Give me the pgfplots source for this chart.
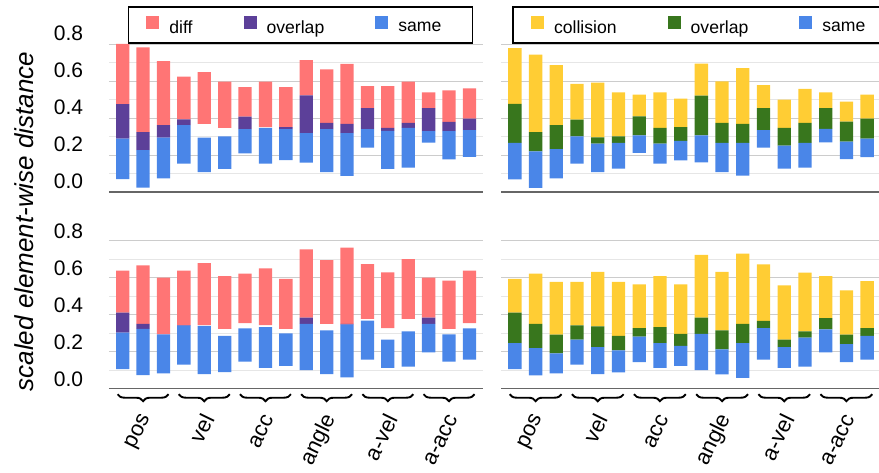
\documentclass[border=0pt]{standalone}
\usepackage{fontspec}
\setmainfont{Liberation Sans}
\usepackage{pgfplots}
\pgfplotsset{compat=1.18}
\usepackage{pgfplotstable}
\usetikzlibrary{decorations.pathreplacing}

\definecolor{cred}{RGB}{255,117,117}
\definecolor{cpurple}{RGB}{92,64,153}
\definecolor{cblue}{RGB}{74,134,232}
\definecolor{cyellow}{RGB}{255,205,52}
\definecolor{cgreen}{RGB}{56,118,29}
\definecolor{gridmaj}{RGB}{204,204,204}
\definecolor{gridmin}{RGB}{230,230,230}
\definecolor{axisgray}{RGB}{102,102,102}

% x: bar index, lo: bottom of "same", bt: top of "same", mt: top of middle (overlap),
% rb: bottom of top segment, rt: top of top segment
\pgfplotstableread{
x lo bt mt rb rt
0 0.069 0.289 0.475 0.475 0.800
1 0.023 0.226 0.323 0.323 0.782
2 0.074 0.294 0.361 0.361 0.708
3 0.153 0.361 0.392 0.392 0.623
4 0.107 0.294 0.294 0.368 0.648
5 0.125 0.300 0.300 0.347 0.596
6 0.209 0.340 0.408 0.408 0.567
7 0.153 0.347 0.347 0.350 0.596
8 0.172 0.340 0.350 0.350 0.567
9 0.159 0.318 0.522 0.522 0.713
10 0.108 0.340 0.374 0.374 0.663
11 0.087 0.318 0.368 0.368 0.692
12 0.240 0.340 0.453 0.453 0.572
13 0.125 0.330 0.347 0.347 0.572
14 0.132 0.347 0.374 0.374 0.596
15 0.267 0.329 0.453 0.453 0.538
16 0.177 0.329 0.379 0.379 0.549
17 0.190 0.334 0.397 0.397 0.560
}\TLdata

\pgfplotstableread{
x lo bt mt rb rt
0 0.068 0.265 0.476 0.476 0.778
1 0.022 0.220 0.323 0.323 0.742
2 0.074 0.232 0.362 0.362 0.686
3 0.153 0.301 0.391 0.391 0.584
4 0.108 0.261 0.295 0.295 0.591
5 0.126 0.265 0.301 0.301 0.539
6 0.211 0.306 0.409 0.409 0.526
7 0.153 0.261 0.346 0.346 0.539
8 0.171 0.277 0.351 0.351 0.505
9 0.160 0.306 0.521 0.521 0.694
10 0.108 0.265 0.373 0.373 0.598
11 0.088 0.265 0.368 0.368 0.670
12 0.240 0.335 0.454 0.454 0.578
13 0.126 0.250 0.346 0.346 0.499
14 0.132 0.265 0.373 0.373 0.557
15 0.268 0.341 0.454 0.454 0.539
16 0.178 0.272 0.380 0.380 0.488
17 0.189 0.288 0.396 0.396 0.526
}\TRdata

\pgfplotstableread{
x lo bt mt rb rt
0 0.106 0.303 0.411 0.411 0.638
1 0.074 0.323 0.350 0.350 0.667
2 0.083 0.294 0.294 0.294 0.600
3 0.130 0.341 0.344 0.344 0.638
4 0.079 0.339 0.339 0.344 0.679
5 0.090 0.286 0.286 0.323 0.609
6 0.146 0.326 0.326 0.355 0.622
7 0.112 0.333 0.333 0.344 0.650
8 0.124 0.299 0.299 0.323 0.593
9 0.101 0.350 0.384 0.384 0.753
10 0.079 0.315 0.315 0.350 0.695
11 0.061 0.346 0.351 0.351 0.762
12 0.157 0.368 0.368 0.378 0.674
13 0.112 0.265 0.265 0.328 0.629
14 0.119 0.310 0.310 0.378 0.701
15 0.196 0.350 0.384 0.384 0.600
16 0.146 0.294 0.294 0.323 0.584
17 0.157 0.326 0.326 0.355 0.638
}\BLdata

\pgfplotstableread{
x lo bt mt rb rt
0 0.106 0.247 0.411 0.411 0.593
1 0.072 0.220 0.350 0.350 0.622
2 0.083 0.191 0.292 0.292 0.577
3 0.130 0.265 0.342 0.342 0.577
4 0.079 0.225 0.337 0.337 0.632
5 0.088 0.207 0.286 0.286 0.577
6 0.144 0.281 0.328 0.328 0.564
7 0.112 0.247 0.333 0.333 0.609
8 0.123 0.231 0.297 0.297 0.564
9 0.101 0.297 0.384 0.384 0.723
10 0.077 0.213 0.315 0.315 0.632
11 0.059 0.247 0.350 0.350 0.730
12 0.157 0.328 0.366 0.366 0.672
13 0.112 0.225 0.265 0.265 0.559
14 0.119 0.276 0.310 0.310 0.627
15 0.196 0.321 0.382 0.382 0.609
16 0.144 0.241 0.292 0.292 0.532
17 0.157 0.286 0.328 0.328 0.582
}\BRdata

% #1 table, #2 middle colour, #3 top colour
\newcommand{\bars}[3]{%
  \addplot[draw=none, fill=none, forget plot] table[x=x, y=lo]{#1};
  \addplot[draw=none, fill=cblue, legend image code/.code={\fill[cblue] (0pt,-1pt) rectangle (13pt,12pt);}]
     table[x=x, y expr=\thisrow{bt}-\thisrow{lo}]{#1};
  \addplot[draw=none, fill=#2, legend image code/.code={\fill[#2] (0pt,-1pt) rectangle (13pt,12pt);}]
     table[x=x, y expr=\thisrow{mt}-\thisrow{bt}]{#1};
  \addplot[draw=none, fill=none, forget plot] table[x=x, y expr=\thisrow{rb}-\thisrow{mt}]{#1};
  \addplot[draw=none, fill=#3, legend image code/.code={\fill[#3] (0pt,-1pt) rectangle (13pt,12pt);}]
     table[x=x, y expr=\thisrow{rt}-\thisrow{rb}]{#1};
}

\tikzset{mybrace/.style={decorate, decoration={brace, mirror, amplitude=7pt}, line width=1.9pt, draw=black}}
\newcommand{\xl}[1]{\mbox{\upshape #1}}

\pgfplotsset{
  panel/.style={
    scale only axis, anchor=south west,
    height=148pt,
    xmin=-0.67, xmax=17.65, ymin=0, ymax=0.8,
    ybar stacked, bar width=13.3pt,
    axis x line*=bottom, axis y line*=left,
    y axis line style={draw=none},
    x axis line style={draw=axisgray, line width=1.3pt},
    ytick={0,0.2,0.4,0.6,0.8}, minor ytick={0.1,0.3,0.5,0.7},
    ymajorgrids, yminorgrids,
    major grid style={draw=gridmaj, line width=0.9pt},
    minor grid style={draw=gridmin, line width=0.9pt},
    major tick length=0pt, minor tick length=0pt,
    xtick=\empty,
    clip=false,
    /pgf/number format/fixed, /pgf/number format/fixed zerofill,
    /pgf/number format/precision=1, /pgf/number format/assume math mode=true,
    yticklabel style={font=\fontsize{21}{25}\selectfont, inner sep=0pt, xshift=-25.7pt},
    reverse legend,
    legend style={anchor=south west, draw=black, line width=1.5pt,
      legend columns=-1, font=\fontsize{17.6}{21}\selectfont,
      /tikz/every even column/.append style={column sep=51pt},
      /tikz/every odd column/.append style={column sep=10pt},
      nodes={inner sep=0pt}, inner xsep=18pt, inner ysep=8.5pt},
    legend cell align=left,
  },
  leftw/.style={width=373.7pt},
  rightw/.style={width=379.6pt, yticklabels={}},
  bottomx/.style={
    xtick={1,4,7,10,13,16},
    xticklabels={\xl{pos},\xl{vel},\xl{acc},\xl{angle},\xl{a-vel},\xl{a-acc}},
    xticklabel style={xshift=4pt, yshift=-27pt, rotate=64, anchor=east, inner sep=0pt,
      font=\upshape\fontsize{22}{26}\selectfont},
  },
}

\begin{document}
\begin{tikzpicture}
% top left
\begin{axis}[panel, leftw, at={(109pt,280pt)},
  yticklabel style={yshift=11pt},
  legend style={at={(0.05,1)}},
  legend entries={same\kern13pt\null, overlap, diff}]
\bars{\TLdata}{cpurple}{cred}
\end{axis}
% top right
\begin{axis}[panel, rightw, at={(501pt,280pt)},
  legend style={at={(0.0298,1)}},
  legend entries={same\kern30pt\null, overlap, collision}]
\bars{\TRdata}{cgreen}{cyellow}
\end{axis}
% bottom left
\begin{axis}[panel, leftw, bottomx, at={(109pt,83.3pt)},
  yticklabel style={yshift=9pt}]
\bars{\BLdata}{cpurple}{cred}
\draw[mybrace] ([yshift=-5.5pt]axis cs:-0.25,0) -- ([yshift=-5.5pt]axis cs:2.25,0);
\draw[mybrace] ([yshift=-5.5pt]axis cs:2.75,0) -- ([yshift=-5.5pt]axis cs:5.25,0);
\draw[mybrace] ([yshift=-5.5pt]axis cs:5.75,0) -- ([yshift=-5.5pt]axis cs:8.25,0);
\draw[mybrace] ([yshift=-5.5pt]axis cs:8.75,0) -- ([yshift=-5.5pt]axis cs:11.25,0);
\draw[mybrace] ([yshift=-5.5pt]axis cs:11.75,0) -- ([yshift=-5.5pt]axis cs:14.25,0);
\draw[mybrace] ([yshift=-5.5pt]axis cs:14.75,0) -- ([yshift=-5.5pt]axis cs:17.25,0);
\end{axis}
% bottom right
\begin{axis}[panel, rightw, bottomx, at={(501pt,83.3pt)}]
\bars{\BRdata}{cgreen}{cyellow}
\draw[mybrace] ([yshift=-5.5pt]axis cs:-0.25,0) -- ([yshift=-5.5pt]axis cs:2.25,0);
\draw[mybrace] ([yshift=-5.5pt]axis cs:2.75,0) -- ([yshift=-5.5pt]axis cs:5.25,0);
\draw[mybrace] ([yshift=-5.5pt]axis cs:5.75,0) -- ([yshift=-5.5pt]axis cs:8.25,0);
\draw[mybrace] ([yshift=-5.5pt]axis cs:8.75,0) -- ([yshift=-5.5pt]axis cs:11.25,0);
\draw[mybrace] ([yshift=-5.5pt]axis cs:11.75,0) -- ([yshift=-5.5pt]axis cs:14.25,0);
\draw[mybrace] ([yshift=-5.5pt]axis cs:14.75,0) -- ([yshift=-5.5pt]axis cs:17.25,0);
\end{axis}
\node[rotate=90, anchor=base, font=\itshape\fontsize{26}{30}\selectfont] at (33pt,250.5pt) {scaled element-wise distance};
\pgfresetboundingbox
\useasboundingbox (0pt,0pt) rectangle (879pt,472pt);
\end{tikzpicture}
\end{document}
